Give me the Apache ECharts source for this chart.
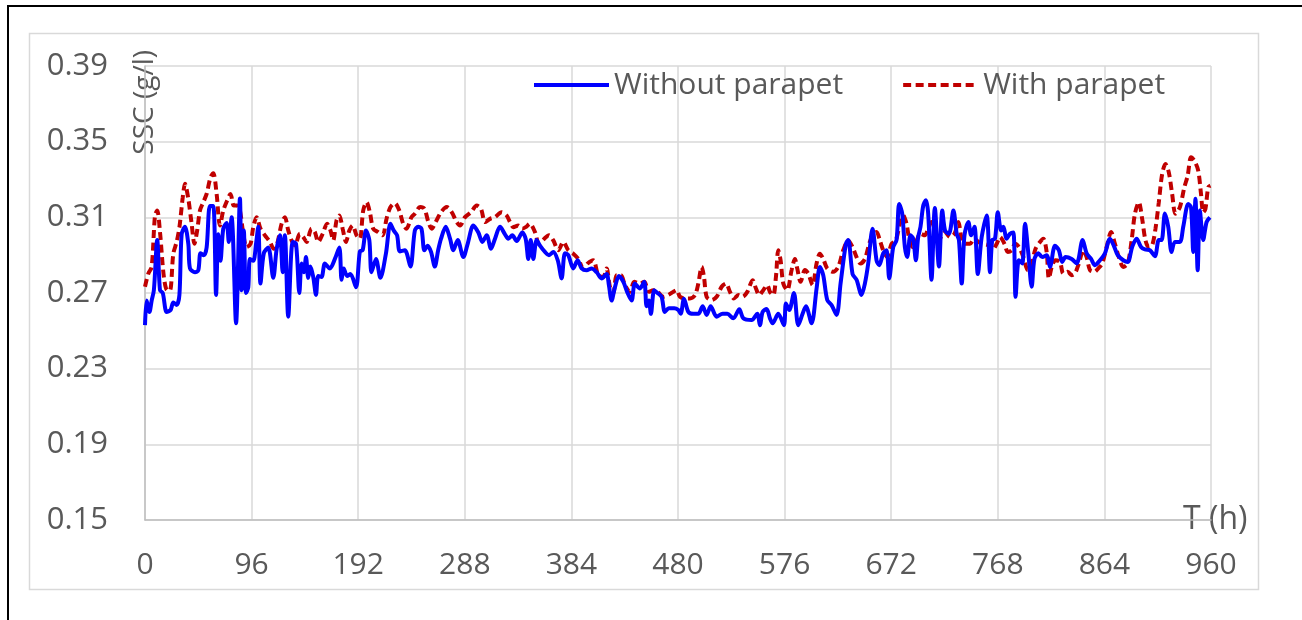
<!DOCTYPE html>
<html>
<head>
<meta charset="utf-8">
<script src="https://cdn.jsdelivr.net/npm/echarts@6/dist/echarts.min.js"></script>
<style>html,body{margin:0;padding:0;background:#fff;}#c{width:1302px;height:620px;}</style>
</head>
<body>
<div id="c"></div>
<script>
var xTicks = [0, 96, 192, 288, 384, 480, 576, 672, 768, 864, 960];
var yTicks = [0.15, 0.19, 0.23, 0.27, 0.31, 0.35, 0.39];

var tWithout = [0,1.5,4,6,8,11,13.5,16,19.5,23,25.5,28.5,31,33,36,39,40.5,45,48,50,53,55.5,58.5,61.5,64,66,68,70.5,73.5,75.5,78,82,85.5,87,89,91,93,94.5,97.5,100,102,104,107,111,115.5,118.5,121.5,124,126,129,133,136,139,141,143,145,147,149,151.5,154,156,159,162,166.5,171,175,177,179,182,185,190,193.5,196,199,202,204,208,212,217,221,224,227,229.5,234,239,243,246,249,251.6,254.6,257.6,261,264,266.6,270.8,274.7,277.7,281.6,286.7,290.6,295.7,300.2,303.8,307.7,311.6,315.2,319.7,324.2,327.2,330.8,334.7,339.8,342.8,345.2,347.3,349.7,352.7,355.7,360.2,363.8,367.7,371.7,375.2,378.2,381.2,385.7,389.6,393.2,397.7,402.2,406.7,411.2,415.7,417.8,420.2,423.2,426.8,430.7,434.6,438.2,441.2,445.7,449.6,451.7,453.8,455.6,458.6,461.6,465.2,468.2,471.8,476.6,480.3,482.4,485.4,489.3,493.8,498.3,502.2,505.8,509.4,514.8,520.2,524.4,529.8,535.2,538.8,546.3,551.4,553.8,556.2,559.8,562.8,565.2,570.3,575.4,577.2,580.2,584.4,588.3,592.2,595.2,600.3,604.8,607.8,610.8,614.4,618.3,622.8,626.4,631.2,633.3,637.2,640.8,645.3,648.3,651.3,655.2,658.8,661.2,664.8,667.8,670.2,673.8,676.8,679.2,681.9,684.3,686.4,689.4,691.8,694.2,696.3,698.4,700.8,703.2,705.3,708.3,711.3,715,718,720.5,724,728,731,733,735.5,738,741.5,744,747,750,753.5,758,761,763,765.5,768,771,773,776,779,782,784,787,790,792.5,795.5,798.5,801,804.5,808,812,815,819.5,823,826,829,834.5,839,844.4,848,852,855.5,860,864.5,869,873,876,881,885,889,893,897,900.5,905,909.5,913,915.5,918.5,921.5,924.5,927.5,932,935,939.5,942,944,946,948,950,953,956,959];
var sscWithout = [0.253,0.266,0.260,0.266,0.2715,0.298,0.2715,0.270,0.260,0.261,0.265,0.2637,0.269,0.301,0.305,0.296,0.283,0.281,0.282,0.291,0.290,0.294,0.316,0.316,0.269,0.301,0.287,0.304,0.307,0.297,0.310,0.254,0.320,0.2715,0.303,0.270,0.273,0.288,0.287,0.296,0.305,0.275,0.291,0.294,0.278,0.293,0.3005,0.281,0.3005,0.2575,0.297,0.296,0.270,0.2856,0.281,0.289,0.278,0.284,0.2785,0.269,0.279,0.2785,0.2856,0.283,0.288,0.294,0.277,0.283,0.279,0.280,0.273,0.292,0.2926,0.303,0.298,0.281,0.288,0.278,0.291,0.3066,0.303,0.3005,0.292,0.2926,0.284,0.303,0.305,0.304,0.2926,0.295,0.2917,0.284,0.2926,0.2987,0.305,0.2987,0.2926,0.298,0.289,0.296,0.3057,0.302,0.297,0.3005,0.2934,0.2987,0.305,0.301,0.2987,0.3005,0.2975,0.302,0.2987,0.288,0.298,0.288,0.298,0.295,0.2917,0.290,0.2917,0.2873,0.2777,0.291,0.290,0.283,0.2873,0.283,0.282,0.283,0.281,0.2777,0.280,0.274,0.266,0.273,0.279,0.276,0.270,0.266,0.275,0.2724,0.276,0.263,0.266,0.259,0.2715,0.270,0.268,0.260,0.262,0.262,0.261,0.259,0.267,0.260,0.259,0.259,0.263,0.2584,0.263,0.2575,0.259,0.259,0.2566,0.2614,0.2566,0.2557,0.259,0.253,0.260,0.2615,0.2566,0.254,0.259,0.253,0.2645,0.261,0.270,0.253,0.259,0.263,0.254,0.2724,0.2838,0.2794,0.2663,0.2636,0.2584,0.275,0.296,0.298,0.280,0.277,0.269,0.275,0.2856,0.304,0.2873,0.2847,0.291,0.2926,0.2777,0.2943,0.298,0.317,0.312,0.2943,0.289,0.3005,0.2987,0.2873,0.2996,0.305,0.316,0.319,0.312,0.277,0.315,0.284,0.3136,0.303,0.3013,0.3136,0.3013,0.298,0.275,0.3005,0.3075,0.3005,0.305,0.280,0.2996,0.311,0.281,0.298,0.2987,0.3127,0.303,0.305,0.2987,0.3013,0.302,0.268,0.2873,0.2856,0.3066,0.291,0.2733,0.288,0.291,0.289,0.290,0.2838,0.295,0.2926,0.2864,0.289,0.288,0.2856,0.298,0.291,0.288,0.2847,0.2873,0.291,0.2987,0.2943,0.290,0.2873,0.2864,0.2943,0.2987,0.2943,0.293,0.2926,0.2894,0.298,0.298,0.312,0.305,0.2917,0.297,0.297,0.305,0.317,0.3154,0.2917,0.3198,0.282,0.3136,0.298,0.3075,0.310];

var tWith = [0,3,6,9,11,13.5,17,20,22.5,25.5,28.5,31,34,36,39,42,44.5,47,49.5,52.5,55.5,59,61.5,64.5,67.5,70.5,74,77,80,83,85.5,88.5,91.5,95,97.5,100.5,104,108,112.5,116,119,123,126,129,132,135,139.5,142.5,145.5,150,153,156,160,164,167,169.5,172.5,175,178,181,184,187,190.5,193.5,196.5,199.5,202.5,205.5,210,214,217.5,221,225,229,232.5,235.5,240,243,247.7,251.6,255.2,258.2,261.8,266.6,271.7,276.2,280.7,283.7,288.2,293.6,298.7,302.6,306.2,310.7,315.2,321.2,325.7,328.7,331.7,336.2,339.8,342.8,346.7,351.2,354.8,359.6,363.8,367.7,372.2,376.7,381.2,385.7,390.2,394.7,398.6,403.7,408.2,412.7,415.7,418.7,421.7,424.7,428.6,432.2,436.7,440.6,445.7,449.6,453.8,457.7,461.6,466.7,471.2,475.7,478.7,481.8,486.3,490.8,495.3,498.3,501.3,503.4,505.8,510.3,514.8,519.3,523.2,526.8,530.4,534.3,538.2,542.4,547.2,550.2,553.2,556.8,560.4,562.8,565.8,568.2,570.3,572.4,574.8,578.4,582.3,585.3,587.4,590.4,594.3,597.3,601.2,604.8,607.8,610.8,614.4,619.8,624.3,628.8,633.3,637.2,640.8,644.4,648.3,652.2,655.8,658.8,661.8,664.8,668.4,672.3,676.2,679.8,682.8,685.8,688.2,691.2,694.8,698.4,702.3,705.3,708.3,711.3,714.5,717.5,720.5,725,729,732.5,735.5,739,743,747,750.5,755,759.5,763,767,770,774,777,780.5,783.5,787,791,795,798.5,802,806,809,812,814,817,820,824,827,831,834.5,837.5,841,845,848,851,855,858.5,862,866,870,873.5,877,881,885,888.5,891.5,895,898,901,904,907,910,913,916,919,922,925,928,932,936,939,942,945,948.5,951,953,955,957.5,959.5];
var sscWith = [0.2733,0.2803,0.2838,0.311,0.3136,0.3022,0.2785,0.2715,0.2715,0.2908,0.297,0.3048,0.3206,0.3277,0.3198,0.3066,0.296,0.3031,0.3136,0.318,0.3224,0.3312,0.3333,0.3224,0.3057,0.3136,0.3189,0.3224,0.3162,0.3162,0.3136,0.3013,0.2943,0.296,0.3048,0.3101,0.304,0.3005,0.297,0.2934,0.296,0.3066,0.3101,0.3031,0.2978,0.2952,0.3013,0.2996,0.297,0.304,0.3022,0.297,0.3013,0.3066,0.3031,0.2978,0.3084,0.311,0.304,0.297,0.3031,0.3057,0.3005,0.2987,0.3136,0.318,0.3127,0.304,0.3022,0.3005,0.3092,0.3154,0.3175,0.3136,0.3066,0.304,0.3101,0.3119,0.3154,0.3145,0.3075,0.304,0.3075,0.3127,0.3154,0.3127,0.3075,0.3057,0.3101,0.3127,0.3162,0.3145,0.3075,0.3092,0.3101,0.3127,0.311,0.3075,0.3048,0.3057,0.304,0.3048,0.3066,0.3022,0.296,0.2987,0.3005,0.2978,0.2926,0.297,0.2926,0.2908,0.288,0.283,0.2856,0.2873,0.2794,0.2785,0.283,0.2733,0.2698,0.2794,0.2794,0.2742,0.2706,0.2759,0.275,0.2759,0.2706,0.2715,0.2706,0.268,0.2689,0.2706,0.2715,0.268,0.2671,0.2671,0.2689,0.275,0.2838,0.2785,0.268,0.2663,0.268,0.2733,0.275,0.2706,0.2671,0.2689,0.268,0.2706,0.2768,0.2724,0.2689,0.2715,0.2742,0.2706,0.2689,0.2785,0.2926,0.2873,0.275,0.2715,0.2821,0.288,0.2829,0.2759,0.2821,0.2803,0.2742,0.2856,0.2908,0.288,0.283,0.2812,0.2838,0.2926,0.2978,0.2943,0.289,0.2856,0.288,0.296,0.3013,0.3022,0.2978,0.2926,0.289,0.296,0.2978,0.3066,0.311,0.3066,0.2987,0.2943,0.2978,0.3013,0.3005,0.304,0.3075,0.304,0.297,0.3005,0.3022,0.2996,0.3013,0.3075,0.2987,0.296,0.296,0.2987,0.297,0.296,0.2952,0.2926,0.296,0.2996,0.296,0.2917,0.2926,0.296,0.2943,0.289,0.2821,0.2856,0.2934,0.297,0.2987,0.2917,0.2777,0.2847,0.2873,0.2864,0.2803,0.2812,0.2794,0.2803,0.2856,0.2926,0.289,0.2821,0.2812,0.283,0.2856,0.2943,0.3022,0.296,0.289,0.2838,0.2856,0.2978,0.3119,0.318,0.3092,0.2978,0.2943,0.2952,0.304,0.318,0.3329,0.3382,0.3338,0.3224,0.3119,0.3154,0.3259,0.332,0.3417,0.34,0.3347,0.3224,0.3127,0.3145,0.3259,0.3268];

function pairs(t, v) { return t.map(function (x, i) { return [x, v[i]]; }); }

var FONT = '"Open Sans", sans-serif';
var TXT = '#595959';

var chart = echarts.init(document.getElementById('c'), null, { renderer: 'canvas' });
chart.setOption({
  animation: false,
  backgroundColor: '#ffffff',
  graphic: [
    { type: 'rect', z: -1, shape: { x: 8, y: 6, width: 1400, height: 700 }, style: { fill: null, stroke: '#000000', lineWidth: 2 } },
    { type: 'rect', z: -1, shape: { x: 29.5, y: 33.5, width: 1229, height: 556 }, style: { fill: null, stroke: '#d9d9d9', lineWidth: 1.5 } }
  ],
  grid: { left: 145, right: 91, top: 66, bottom: 100 },
  legend: {
    left: 527, top: 65,
    itemWidth: 75, itemHeight: 20, itemGap: 58,
    itemStyle: { opacity: 0 },
    lineStyle: { width: 4 },
    textStyle: { fontFamily: FONT, fontSize: 30, color: TXT },
    data: ['Without parapet', 'With parapet']
  },
  xAxis: {
    type: 'value', min: xTicks[0], max: xTicks[xTicks.length - 1], interval: 96,
    name: 'T (h)', nameLocation: 'end', nameGap: -28,
    nameTextStyle: { fontFamily: FONT, fontSize: 32, color: TXT, align: 'left', verticalAlign: 'middle' },
    axisLine: { show: true, lineStyle: { color: '#bfbfbf', width: 1.5 } },
    axisTick: { show: false },
    axisLabel: { fontFamily: FONT, fontSize: 30, color: TXT, margin: 30 },
    splitLine: { show: true, lineStyle: { color: '#d9d9d9', width: 1.5 } }
  },
  yAxis: {
    type: 'value', min: yTicks[0], max: yTicks[yTicks.length - 1], interval: 0.04,
    name: 'SSC (g/l)', nameLocation: 'end', nameRotate: 90, nameGap: 16,
    nameTextStyle: { fontFamily: FONT, fontSize: 28, color: TXT, align: 'right', verticalAlign: 'middle' },
    axisLine: { show: true, lineStyle: { color: '#bfbfbf', width: 1.5 } },
    axisTick: { show: false },
    axisLabel: { fontFamily: FONT, fontSize: 31, color: TXT, margin: 37, formatter: function (v) { return v.toFixed(2); } },
    splitLine: { show: true, lineStyle: { color: '#d9d9d9', width: 1.5 } }
  },
  series: [
    {
      name: 'Without parapet', type: 'line', data: pairs(tWithout, sscWithout),
      showSymbol: false, symbol: 'none', smooth: 0.3, z: 3,
      lineStyle: { color: '#0000ff', width: 4 },
      itemStyle: { color: '#0000ff' }
    },
    {
      name: 'With parapet', type: 'line', data: pairs(tWith, sscWith),
      showSymbol: false, symbol: 'none', smooth: 0.3, z: 2,
      lineStyle: { color: '#c00000', width: 4, type: [8, 4.5] },
      itemStyle: { color: '#c00000' }
    }
  ]
});
</script>
</body>
</html>
